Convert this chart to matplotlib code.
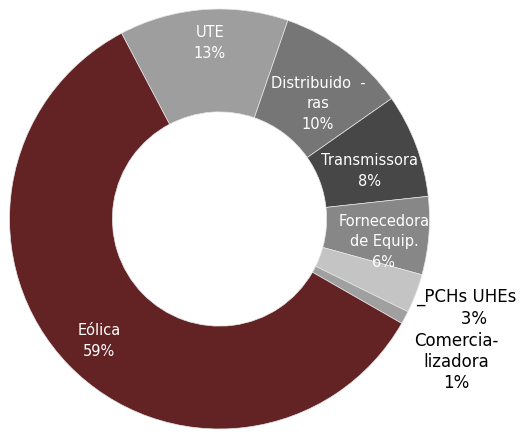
import numpy as np
import matplotlib.pyplot as plt

# Participação por segmento (%)
categorias = ['UTE', 'Distribuidoras', 'Transmissora', 'Fornecedora de Equip.',
              'PCHs UHEs', 'Comercializadora', 'Eólica']
valores = [13, 10, 8, 6, 3, 1, 59]
rotulos = ['UTE\n13%', 'Distribuido  -\nras\n10%', 'Transmissora\n8%',
           'Fornecedora\nde Equip.\n6%', '_PCHs UHEs\n   3%',
           'Comercia-\nlizadora\n1%', 'Eólica\n59%']
cores = ['#9e9e9e', '#767676', '#474747', '#878787', '#c4c4c4', '#a0a0a0', '#632324']

W, H = 531, 435
cx, cy, R = 219.5, 220, 210


def to_data(px, py):
    # pixel position of the reference -> data coordinates of the pie
    return (px - cx) / R, (cy - py) / R


# label positions (pixels in the reference), text colour, size, spacing
posicoes = [(210, 43), (318, 104), (370, 171), (384, 242),
            (466, 308), (456, 362), (99, 341)]
cor_texto = ['white', 'white', 'white', 'white', 'black', 'black', 'white']
tamanhos = [10.5, 10.5, 10.5, 10.5, 12, 12, 10.5]
espacos = [1.45, 1.45, 1.45, 1.45, 1.25, 1.25, 1.45]

fig = plt.figure(figsize=(W / 100, H / 100), dpi=100)
ax = fig.add_axes([(cx - R) / W, (H - cy - R) / H, 2 * R / W, 2 * R / H])

ax.pie(valores, colors=cores, startangle=117.8, counterclock=False,
       radius=1, wedgeprops=dict(width=0.49, edgecolor='#e6e6e6', linewidth=0.5))

for rot, (px, py), c, fs, ls in zip(rotulos, posicoes, cor_texto, tamanhos, espacos):
    x, y = to_data(px, py)
    ax.text(x, y, rot, ha='center', va='center', color=c, fontsize=fs,
            linespacing=ls, family='DejaVu Sans')

ax.set_xlim(-1, 1)
ax.set_ylim(-1, 1)
ax.set_aspect('equal')
ax.axis('off')

fig.savefig('out.png', dpi=100)
